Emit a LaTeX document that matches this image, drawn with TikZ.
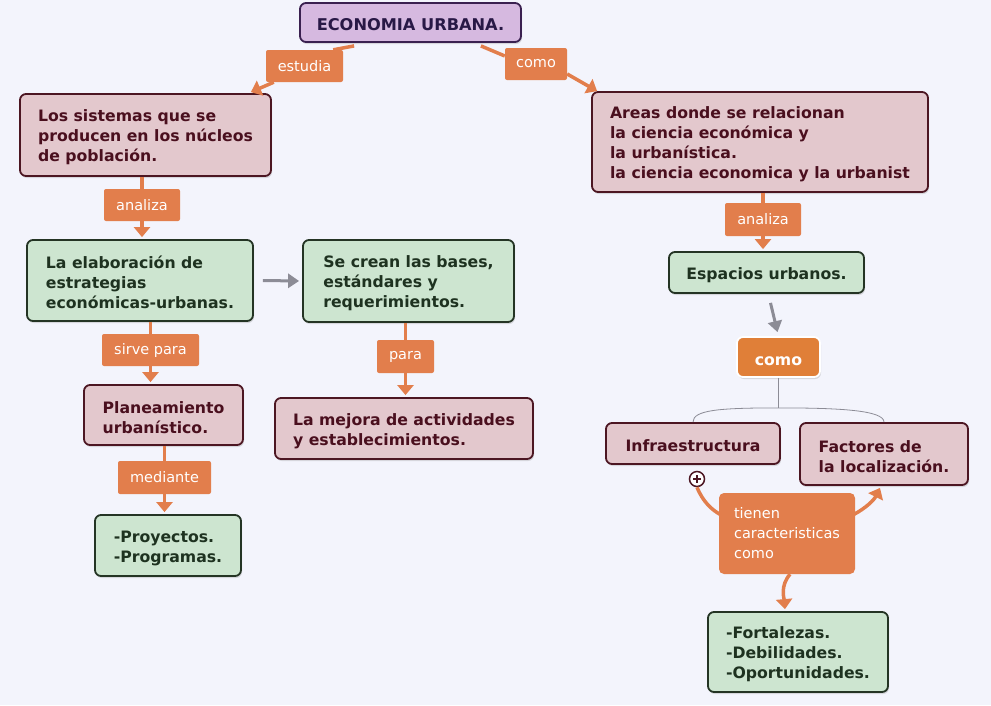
\documentclass[tikz,border=0pt]{standalone}
\usepackage{fontspec}
\setmainfont{DejaVu Sans}
\usetikzlibrary{arrows.meta,shadows,calc}
\definecolor{bg}{RGB}{243,244,252}
\definecolor{mbf}{RGB}{227,200,205}
\definecolor{mbd}{RGB}{76,22,34}
\definecolor{mbt}{RGB}{74,15,30}
\definecolor{gbf}{RGB}{205,229,208}
\definecolor{gbd}{RGB}{36,52,36}
\definecolor{gbt}{RGB}{30,50,32}
\definecolor{lilf}{RGB}{214,185,224}
\definecolor{lild}{RGB}{58,32,80}
\definecolor{lilt}{RGB}{40,24,70}
\definecolor{labc}{RGB}{226,126,76}
\definecolor{orn}{RGB}{224,127,56}
\definecolor{greyc}{RGB}{140,140,150}
\newcommand{\tstrut}{\rule{0pt}{16.5pt}}
\begin{document}
\begin{tikzpicture}[x=1pt,y=-1pt,
  box/.style={rounded corners=6pt, line width=1.8pt, align=left, inner sep=0pt,
    font=\fontsize{15.7}{20}\selectfont\bfseries,
    drop shadow={shadow xshift=1pt,shadow yshift=-2pt,opacity=0.25}},
  mbox/.style={box, draw=mbd, fill=mbf, text=mbt},
  gbox/.style={box, draw=gbd, fill=gbf, text=gbt},
  lab/.style={fill=labc, text=white, rounded corners=2pt, inner sep=0pt,
    font=\fontsize{14.5}{20}\selectfont, align=left},
  oline/.style={draw=labc, line width=3.5pt},
  oarr/.style={oline, -{Triangle[width=16pt,length=10pt]}},
  garr/.style={draw=greyc, line width=3pt, -{Triangle[width=14pt,length=11pt]}},
  bracket/.style={draw=greyc, line width=0.8pt}
]
\useasboundingbox (0,0) rectangle (991,705);
\fill[bg] (0,0) rectangle (991,705);

% main nodes
\node[box, draw=lild, fill=lilf, text=lilt, minimum width=221pt, minimum height=39pt, font=\fontsize{16.2}{20}\selectfont\bfseries] (title) at (410.5,22.5) {\tstrut ECONOMIA URBANA.};
\node[mbox, minimum width=251pt, minimum height=82pt] (sist) at (145.5,135) {\tstrut Los sistemas que se\\producen en los núcleos\\de población.};
\node[mbox, minimum width=336pt, minimum height=100pt] (areas) at (760,142) {\tstrut Areas donde se relacionan\\la ciencia económica y\\la urbanística.\\la ciencia economica y la urbanist};
\node[gbox, minimum width=226pt, minimum height=81pt] (elab) at (140,280.5) {\tstrut La elaboración de\\estrategias\\económicas-urbanas.};
\node[gbox, minimum width=211pt, minimum height=82pt] (secrean) at (408.5,281) {\tstrut Se crean las bases,\\estándares y\\requerimientos.};
\node[gbox, minimum width=195pt, minimum height=41pt] (espacios) at (766.5,272.5) {\tstrut Espacios urbanos.};
\node[box, draw=white, fill=orn, text=white, minimum width=83pt, minimum height=40pt] (como2) at (778.5,357) {\tstrut como};
\node[mbox, minimum width=174pt, minimum height=41pt] (infra) at (693,443.5) {\tstrut Infraestructura};
\node[mbox, minimum width=168pt, minimum height=62pt] (factores) at (884,454) {\tstrut Factores de\\la localización.};
\node[mbox, minimum width=159pt, minimum height=60pt] (plan) at (163.5,415) {\tstrut Planeamiento\\urbanístico.};
\node[mbox, minimum width=258pt, minimum height=61pt] (mejora) at (404,428.5) {\tstrut La mejora de actividades\\y establecimientos.};
\node[gbox, minimum width=146pt, minimum height=61pt] (proy) at (168,545.5) {\tstrut -Proyectos.\\-Programas.};
\node[gbox, minimum width=180pt, minimum height=80pt] (fort) at (798,652) {\tstrut -Fortalezas.\\-Debilidades.\\-Oportunidades.};

% labels
\node[lab, minimum width=77pt, minimum height=32pt] (estudia) at (304.5,66) {estudia};
\node[lab, minimum width=62pt, minimum height=32pt] (como1) at (536,64) {como};
\node[lab, minimum width=76pt, minimum height=32pt] (analiza1) at (142,205) {analiza};
\node[lab, minimum width=76pt, minimum height=33pt] (analiza2) at (763,219.5) {analiza};
\node[lab, minimum width=97pt, minimum height=32pt] (sirve) at (150.5,350) {sirve para};
\node[lab, minimum width=93pt, minimum height=33pt] (mediante) at (164.5,477.5) {mediante};
\node[lab, minimum width=57pt, minimum height=33pt] (para) at (405.5,356.5) {para};
\node[lab, rounded corners=5pt, minimum width=136pt, minimum height=81pt] (tienen) at (787,533.5) {tienen\\caracteristicas\\como};

% orange connectors
\draw[oline] ($(title.south west)+(55,3)$) -- ($(estudia.north east)+(-10,0)$);
\draw[oarr] ($(estudia.south west)+(8,0)$) -- ($(sist.north east)+(-21,-1)$);
\draw[oline] ($(title.south east)+(-41,3)$) -- ($(como1.west)+(0,-8)$);
\draw[oarr] ($(como1.east)+(0,10)$) -- ($(areas.north west)+(6,0)$);
\draw[oline] (analiza1.north |- sist.south) -- (analiza1.north);
\draw[oarr] (analiza1.south) -- ($(analiza1.south |- elab.north)+(0,-2)$);
\draw[oline] (sirve.north |- elab.south) -- (sirve.north);
\draw[oarr] (sirve.south) -- ($(sirve.south |- plan.north)+(0,-2)$);
\draw[oline] (mediante.north |- plan.south) -- (mediante.north);
\draw[oarr] (mediante.south) -- ($(mediante.south |- proy.north)+(0,-2)$);
\draw[oline] (para.north |- secrean.south) -- (para.north);
\draw[oarr] (para.south) -- ($(para.south |- mejora.north)+(0,-2)$);
\draw[oline] (analiza2.north |- areas.south) -- (analiza2.north);
\draw[oarr] (analiza2.south) -- ($(analiza2.south |- espacios.north)+(0,-2)$);

% grey arrows
\draw[garr] ($(elab.east)+(9,0)$) -- ($(secrean.west)+(-3,0)$);
\draw[garr] ($(espacios.south)+(4,9)$) -- ($(como2.north)+(-1,-4)$);

% bracket
\draw[bracket] (como2.south) -- ++(0,30) coordinate (bj);
\draw[bracket] (infra.north) .. controls ($(infra.north)+(0,-12)$) and ($(bj)+(-60,0)$) .. (bj)
  .. controls ($(bj)+(60,0)$) and ($(factores.north)+(0,-12)$) .. (factores.north);

% plus and curves
\node[circle, draw=mbd, fill=white, line width=1.5pt, minimum size=15pt, inner sep=0pt] (plus) at (697,479) {};
\draw[mbd, line width=1.6pt] ($(plus.center)+(-4,0)$) -- ($(plus.center)+(4,0)$);
\draw[mbd, line width=1.6pt] ($(plus.center)+(0,-4)$) -- ($(plus.center)+(0,4)$);
\draw[oline] (plus.south) .. controls (703,502) and (712,510) .. ($(tienen.north west)+(2,22)$);
\draw[oarr] ($(tienen.north east)+(-2,22)$) .. controls (866,508) and (874,500) .. ($(factores.south)+(-4,2)$);
\draw[oarr] ($(tienen.south)+(3,0)$) .. controls (780,586) and (784,598) .. ($(fort.north)+(-13,-2)$);
\end{tikzpicture}
\end{document}
